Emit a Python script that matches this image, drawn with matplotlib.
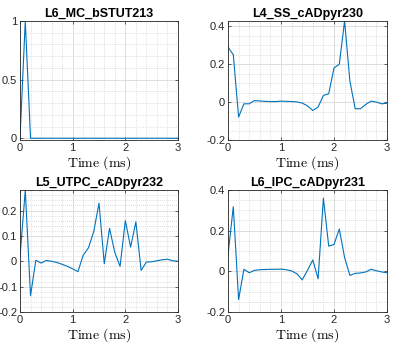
import matplotlib
matplotlib.use("Agg")
import matplotlib.pyplot as plt
import numpy as np
from matplotlib.ticker import MultipleLocator

plt.rcParams['mathtext.fontset'] = 'cm'
plt.rcParams['font.family'] = ['Liberation Sans', 'DejaVu Sans']

time_ms = [round(0.1 * i, 1) for i in range(31)]

titles = ["L6_MC_bSTUT213", "L4_SS_cADpyr230", "L5_UTPC_cADpyr232", "L6_IPC_cADpyr231"]

mc_values = [0.0, 1.0, 0.0, 0.0, 0.0, 0.0, 0.0, 0.0, 0.0, 0.0,
             0.0, 0.0, 0.0, 0.0, 0.0, 0.0, 0.0, 0.0, 0.0, 0.0,
             0.0, 0.0, 0.0, 0.0, 0.0, 0.0, 0.0, 0.0, 0.0, 0.0, 0.0]

ss_values = [0.29, 0.25, -0.079, -0.009, -0.009, 0.008, 0.006, 0.004, 0.003, 0.003,
             0.005, 0.004, 0.003, 0.001, -0.005, -0.02, -0.044, -0.026, 0.035, 0.044,
             0.18, 0.2, 0.428, 0.11, -0.035, -0.035, -0.012, 0.005, 0.0, -0.009, -0.006]

utpc_values = [0.017, 0.28, -0.136, 0.004, -0.007, 0.003, 0.0, -0.005, -0.012, -0.02,
               -0.03, -0.041, 0.024, 0.053, 0.117, 0.229, -0.01, 0.13, 0.035, -0.02,
               0.16, 0.056, 0.155, -0.036, -0.003, -0.002, 0.002, 0.006, 0.008, 0.002, 0.0]

ipc_values = [0.08, 0.318, -0.139, 0.01, -0.007, 0.005, 0.008, 0.009, 0.01, 0.01,
              0.011, 0.008, 0.002, -0.012, -0.042, 0.005, 0.056, -0.037, 0.36, 0.124,
              0.132, 0.208, 0.068, -0.02, -0.01, -0.008, -0.003, 0.01, 0.003, -0.003, -0.007]

series = [mc_values, ss_values, utpc_values, ipc_values]
ylims = [(-0.015, 1.0), (-0.2, 0.428), (-0.2, 0.281), (-0.2, 0.4)]
ymajor = [0.5, 0.2, 0.1, 0.2]
yminor = [0.1, 0.05, 0.02, 0.05]

W, H = 398, 343
fig = plt.figure(figsize=(W / 100, H / 100), dpi=100)

positions = [(20, 21, 158, 119), (228, 21, 159, 119), (20, 190, 158, 122), (228, 190, 159, 122)]

dark = '#262626'
for k in range(4):
    x0, y0, w, h = positions[k]
    ax = fig.add_axes([x0 / W, 1 - (y0 + h) / H, w / W, h / H])
    ax.plot(time_ms, series[k], color='#0072BD', lw=0.8)
    ax.set_xlim(0, 3)
    ax.set_ylim(*ylims[k])
    ax.xaxis.set_major_locator(MultipleLocator(1))
    ax.xaxis.set_minor_locator(MultipleLocator(0.2))
    ax.yaxis.set_major_locator(MultipleLocator(ymajor[k]))
    ax.yaxis.set_minor_locator(MultipleLocator(yminor[k]))
    ax.grid(which='major', color='#d8d8d8', lw=0.6, ls='-')
    ax.grid(which='minor', color='#c4c4c4', lw=0.5, ls=(0, (1, 1.8)))
    ax.set_axisbelow(True)
    ax.tick_params(which='both', direction='in', top=True, right=True,
                   labelsize=8, colors=dark, length=2.5, width=0.5, pad=2)
    ax.tick_params(which='minor', length=0)
    for s in ax.spines.values():
        s.set_color(dark)
        s.set_linewidth(0.6)
    ax.yaxis.set_major_formatter(matplotlib.ticker.FuncFormatter(
        lambda v, p: ('%g' % round(v, 3)).replace('\u2212', '-')))
    ax.set_title(titles[k], fontsize=9, fontweight='bold', color='black', pad=3)
    ax.set_xlabel(r'$\mathrm{Time\ (ms)}$', fontsize=10, color='black', labelpad=1)

fig.savefig('out.png', dpi=100)
